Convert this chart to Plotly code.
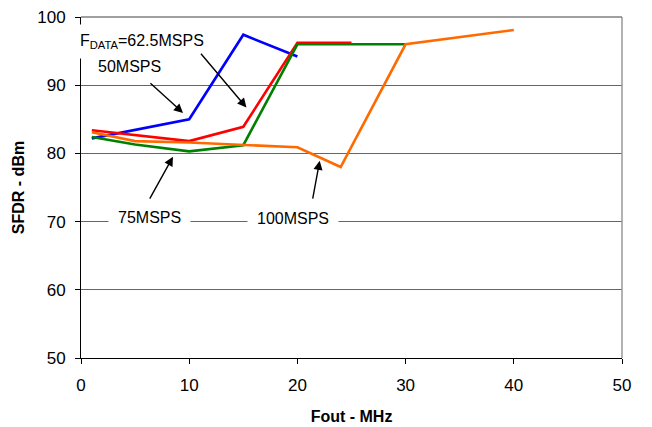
import plotly.graph_objects as go

# ---- data ----
fout_50 = [1, 10, 15, 20]
sfdr_50 = [82.2, 85.0, 97.4, 94.2]

fout_625 = [1, 10, 15, 20, 25]
sfdr_625 = [83.4, 81.8, 83.9, 96.2, 96.2]

fout_75 = [1, 5, 10, 15, 20, 30]
sfdr_75 = [82.4, 81.3, 80.3, 81.2, 96.0, 96.0]

fout_100 = [1, 5, 10, 15, 20, 24, 30, 40]
sfdr_100 = [83.1, 81.8, 81.6, 81.3, 80.9, 78.0, 96.0, 98.1]

series_names = ["50MSPS", "62.5MSPS", "75MSPS", "100MSPS"]
series_colors = ["#0000ff", "#ff0000", "#008000", "#ff6a00"]

x_ticks = [0, 10, 20, 30, 40, 50]
y_ticks = [50, 60, 70, 80, 90, 100]

FONT = "Liberation Sans, Arial, sans-serif"

fig = go.Figure()
for xs, ys, name, col in zip([fout_50, fout_625, fout_75, fout_100],
                             [sfdr_50, sfdr_625, sfdr_75, sfdr_100],
                             series_names, series_colors):
    fig.add_trace(go.Scatter(x=xs, y=ys, mode="lines", name=name,
                             line=dict(color=col, width=2.6),
                             showlegend=False, cliponaxis=False))

# text labels (with white background hiding lines behind)
labels = [
    ("F<sub>DATA</sub>=62.5MSPS", 5.60, 96.4, 7),
    ("50MSPS", 4.47, 92.7, 2),
    ("75MSPS", 6.32, 70.55, 9),
    ("100MSPS", 19.63, 70.4, 9),
]
for txt, x, y, pad in labels:
    fig.add_annotation(x=x, y=y, xref="x", yref="y", text=txt, showarrow=False,
                       font=dict(family=FONT, size=16, color="#000"),
                       bgcolor="white", borderpad=pad,
                       xanchor="center", yanchor="middle")

# arrows: (tail x, tail y, head x, head y)
arrows = [
    (10.97, 94.83, 15.29, 86.73),
    (6.28, 90.48, 9.43, 85.94),
    (6.28, 73.16, 8.50, 79.50),
    (21.39, 73.16, 22.06, 78.92),
]
for tx, ty, hx, hy in arrows:
    fig.add_annotation(x=hx, y=hy, ax=tx, ay=ty, xref="x", yref="y",
                       axref="x", ayref="y", text="", showarrow=True,
                       arrowhead=2, arrowsize=1.3, arrowwidth=1.4,
                       arrowcolor="black", standoff=0)

# right border and top line
fig.add_shape(type="line", xref="paper", yref="paper", x0=1, x1=1, y0=0, y1=1,
              line=dict(color="#999999", width=1.5))
fig.add_shape(type="line", xref="paper", yref="paper", x0=0, x1=1, y0=1, y1=1,
              line=dict(color="#808080", width=1.5))

fig.update_xaxes(range=[0, 50], tickvals=x_ticks, showgrid=False,
                 showline=True, linecolor="black", linewidth=1,
                 ticks="outside", ticklen=5, tickcolor="black",
                 tickfont=dict(family=FONT, size=17, color="#000"),
                 ticklabelstandoff=7, zeroline=False, automargin=False,
                 ticklabeloverflow="allow",
                 title=dict(text="<b>Fout - MHz</b>", standoff=16,
                            font=dict(family=FONT, size=16, color="#000")))
fig.update_yaxes(range=[50, 100], tickvals=y_ticks, showgrid=True,
                 gridcolor="#666666", gridwidth=1,
                 showline=True, linecolor="black", linewidth=1,
                 ticks="outside", ticklen=5, tickcolor="black",
                 tickfont=dict(family=FONT, size=17, color="#000"),
                 ticklabelstandoff=6, zeroline=False, automargin=False,
                 ticklabeloverflow="allow",
                 title=dict(text="<b>SFDR - dBm</b>", standoff=8,
                            font=dict(family=FONT, size=16, color="#000")))

# page body has an 8px margin, so the figure sits 8px right/down
fig.update_layout(width=644, height=419,
                  margin=dict(l=73, r=30, t=9, b=69),
                  paper_bgcolor="white", plot_bgcolor="white")

fig.write_html("out.html")
